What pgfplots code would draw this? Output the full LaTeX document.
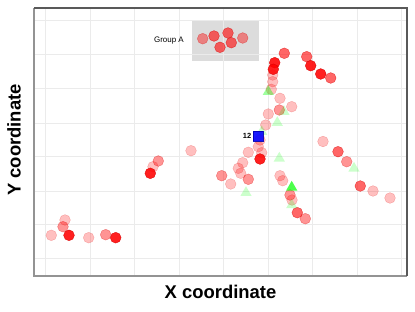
\documentclass[border=0pt]{standalone}
\usepackage{fontspec}
\setmainfont{Liberation Sans}
\usepackage{pgfplots}
\pgfplotsset{compat=1.18}
\definecolor{gridc}{HTML}{EBEBEB}
\definecolor{boxc}{HTML}{DCDCDC}
\begin{document}
\begin{tikzpicture}
\begin{axis}[
  at={(34bp,36bp)}, anchor=south west,
  scale only axis, width=373bp, height=268bp,
  xmin=34, xmax=407, ymin=36, ymax=304,
  xtick={45.7,90.2,134.7,179.2,223.7,268.2,312.7,357.2,401.7},
  ytick={54,88,121,156,189,224,258,292},
  xticklabels={}, yticklabels={},
  major tick length=0pt,
  grid=major, grid style={gridc, line width=0.9pt},
  axis line style={draw=none},
  set layers, clip=false,
  every axis plot/.append style={only marks},
]
\begin{pgfonlayer}{axis background}
\fill[boxc] (axis cs:192,251) rectangle (axis cs:259,292);
\end{pgfonlayer}
% faint circles
\addplot[color=red, mark=*, mark size=5.4pt, mark options={fill=red, draw=red!85!black, opacity=0.25}] coordinates {
(272.7,237) (272.7,230.3) (271.3,222.7) (280,213.7) (291.7,205.3) (268.3,198) (265.7,187)
(323,170.5) (260,172) (258.3,165.3) (248.3,159.7) (261.7,159.3) (242.7,149.3) (238.3,143.7)
(240.7,138.7) (230.7,128) (280,136.3) (282.7,131.3) (292,112) (373,121) (390,114)
(191,161.3) (153,145.3) (65,92) (51.3,76.7) (88.7,74.3)
};
% light circles
\addplot[color=red, mark=*, mark size=5.4pt, mark options={fill=red, draw=red!85!black, opacity=0.42}] coordinates {
(202.7,273.3) (242.7,274) (279.3,202) (248.3,132.7) (221.7,136.3) (290,117) (305.3,93.3)
(346.7,150.3) (158.3,151) (63,85.3) (105.7,77.3)
};
% medium circles
\addplot[color=red, mark=*, mark size=5.4pt, mark options={fill=red, draw=red!85!black, opacity=0.6}] coordinates {
(214,276) (228,279) (220,264.7) (231.3,269.3) (284.3,258.7) (306.7,255.3) (330.7,234)
(297.3,99.3) (338,160.3) (360.3,126)
};
% strong circles
\addplot[color=red, mark=*, mark size=5.4pt, mark options={fill=red, draw=red!85!black, opacity=0.88}] coordinates {
(310.7,246.3) (320.7,238) (274.7,249.3) (273.3,242.7) (260,153) (150.3,138.7) (69,76.7) (115.7,74.3)
};
% triangles
\addplot[color=green, mark=triangle*, mark size=6.5pt, mark options={fill=green, draw opacity=0, fill opacity=0.2}] coordinates {
(284,200.3) (277.3,189.3) (261.7,180.3) (246,119.3) (279.3,153.7) (291.7,107) (354,143.7)
};
\addplot[color=green, mark=triangle*, mark size=6.5pt, mark options={fill=green, draw opacity=0, fill opacity=0.38}] coordinates {
(268.3,220.3)
};
\addplot[color=green, mark=triangle*, mark size=6.5pt, mark options={fill=green, draw opacity=0, fill opacity=0.7}] coordinates {
(291.7,124.7)
};
% highlighted square
\addplot[color=blue, mark=square*, mark size=5pt, mark options={fill=blue, draw=blue!70!black, opacity=0.9}] coordinates {
(258.3,176)
};
\node[anchor=east, font=\bfseries\fontsize{7.5}{8}\selectfont, inner sep=0pt] at (axis cs:251.5,176) {12};
\node[anchor=east, font=\fontsize{8}{9}\selectfont, inner sep=0pt] at (axis cs:184,271) {Group A};
% frame
\draw[color=gray!85, line width=1.2pt] (rel axis cs:0,1) -- (rel axis cs:0,0) -- (rel axis cs:1,0);
\draw[color=gray!70!black, line width=1.2pt] (rel axis cs:0,1) -- (rel axis cs:1,1) -- (rel axis cs:1,0);
\end{axis}
\node[font=\bfseries\fontsize{18.5}{20}\selectfont] at (220.5bp,20bp) {X coordinate};
\node[font=\bfseries\fontsize{18.5}{20}\selectfont, rotate=90] at (14bp,172bp) {Y coordinate};
\pgfresetboundingbox
\path[use as bounding box] (0,0) rectangle (415bp,312bp);
\end{tikzpicture}
\end{document}
